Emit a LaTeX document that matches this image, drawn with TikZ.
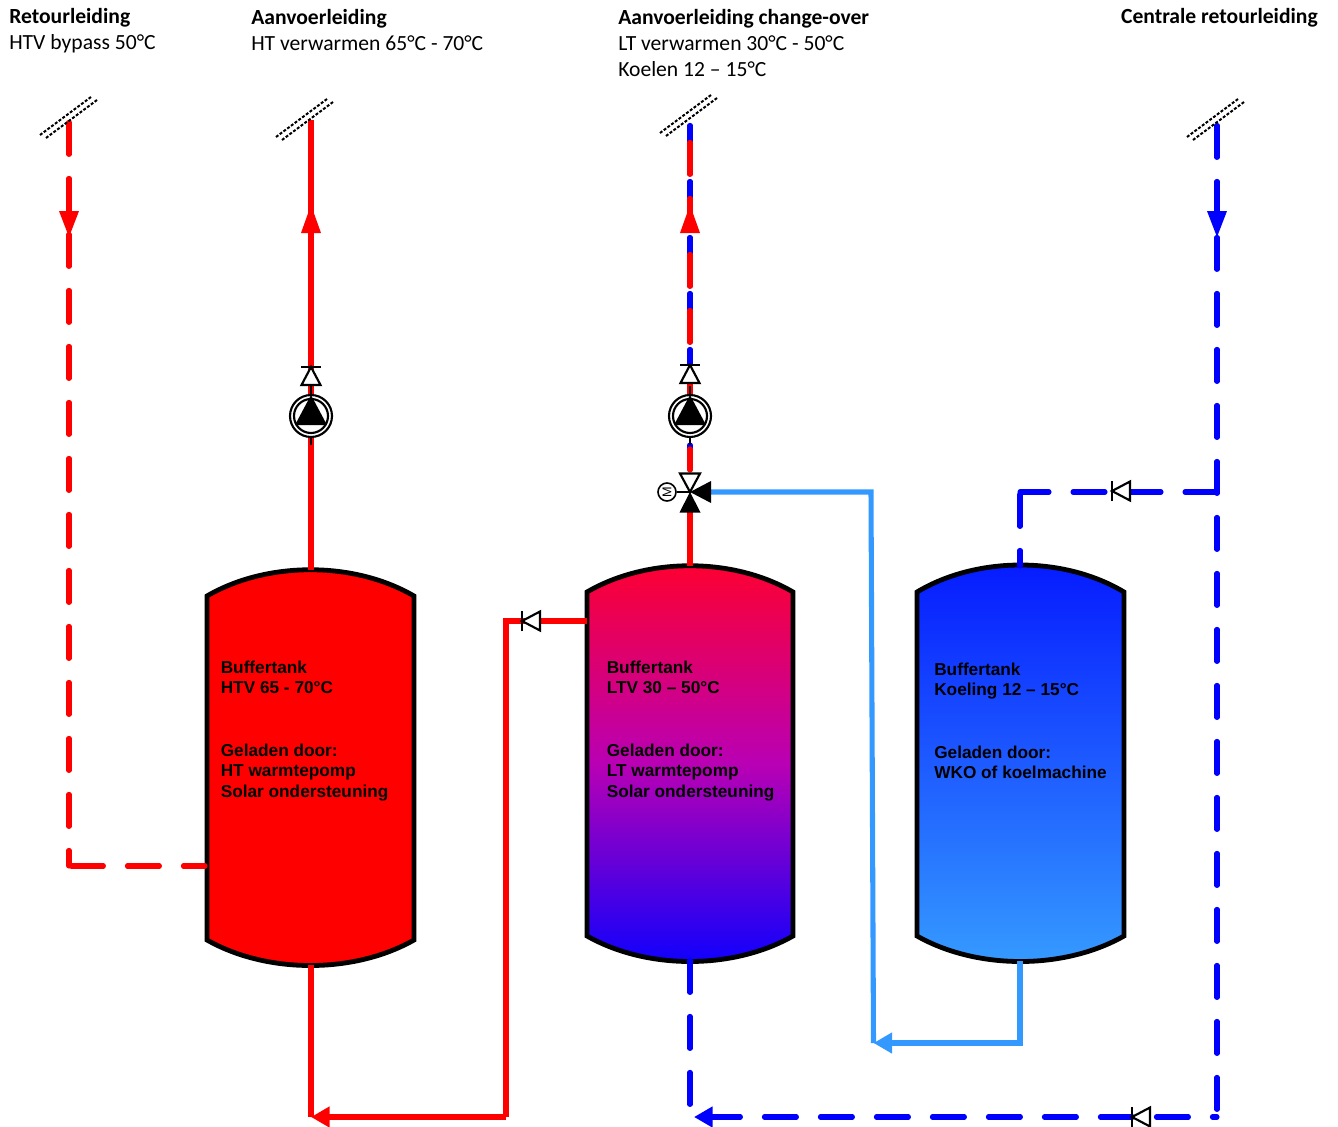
\documentclass[tikz,border=0pt]{standalone}
\usepackage{fontspec}
\setmainfont{Carlito}
\newfontfamily\tankfont{Liberation Sans}
\usetikzlibrary{arrows.meta}
\definecolor{pipered}{RGB}{255,0,0}
\definecolor{pipeblue}{RGB}{0,0,255}
\definecolor{pipelight}{RGB}{51,153,255}
\tikzset{
  x=.75pt,y=-.75pt,
  tankbody/.style={draw=black,line width=3.6pt,line join=miter},
  pipe/.style={line width=3.8pt,line cap=butt,line join=miter},
  dashpipe/.style={pipe,dash pattern=on 24pt off 18pt,line cap=round},
  symbol/.style={draw=black,line width=1.6pt,line join=miter},
  roof/.style={draw=black,line width=1.5pt,dash pattern=on 2.2pt off 1.3pt},
  headtext/.style={anchor=west,font=\fontsize{16.2pt}{19.5pt}\selectfont,align=left,inner sep=0pt,text=black},
  tanktext/.style={anchor=north west,font=\tankfont\bfseries\fontsize{12.93pt}{15.5pt}\selectfont,align=left,inner sep=0pt,text=black},
  tipr/.style={-{Triangle[length=14pt,width=15pt]}},
}
% tank: name, left x, right x, shoulder top y, apex y, shoulder bottom y, bottom y, fill options
\newcommand{\tank}[8]{%
  \path[tankbody,#8] (#2,#4) .. controls ({#2+60},#5) and ({#3-60},#5) .. (#3,#4)
     -- (#3,#6) .. controls ({#3-60},#7) and ({#2+60},#7) .. (#2,#6) -- cycle;
}
% check valve: position, rotation (apex + bar at local top)
\newcommand{\checkvalve}[3]{%
  \begin{scope}[shift={(#2,#3)},rotate=#1]
    \draw[symbol,fill=white] (0,-9) -- (9.5,9) -- (-9.5,9) -- cycle;
    \draw[symbol] (-10,-9) -- (10,-9);
  \end{scope}}
\newcommand{\pumpsym}[2]{%
  \begin{scope}[shift={(#1,#2)}]
    \draw[symbol,fill=white] (0,0) circle[radius=21];
    \draw[symbol] (0,0) circle[radius=17];
    \fill[black] (0,-21) -- (16,9) -- (-16,9) -- cycle;
    \draw[symbol] (0,21) -- (0,29);
    \draw[symbol] (0,-21) -- (0,-30);
  \end{scope}}
\newcommand{\roofsym}[2]{%
  \draw[roof] ({#1-30},{#2+38}) -- ({#1+21},{#2});
  \draw[roof] ({#1-24},{#2+41}) -- ({#1+27},{#2+3});
}
\begin{document}
\begin{tikzpicture}
\useasboundingbox (0,0) rectangle (1338,1127);
\fill[white] (0,0) rectangle (1338,1127);
% texts
\node[headtext] (t1) at (9,30.5) {\textbf{Retourleiding}\\HTV bypass 50°C};
\node[headtext] (t2) at (251,30.5) {\textbf{Aanvoerleiding}\\HT verwarmen 65°C - 70°C};
\node[headtext] (t3) at (618,42.5) {\textbf{Aanvoerleiding change-over}\\LT verwarmen 30°C - 50°C\\Koelen 12 – 15°C};
\node[headtext,anchor=east] (t4) at (1318,18) {\textbf{Centrale retourleiding}};
% anchor points
\coordinate (retA) at (69,122.4);
\coordinate (retB) at (69,866);
\coordinate (retC) at (205,866);
\coordinate (aanA) at (311,120);
\coordinate (chA) at (690,125.4);
\coordinate (chR) at (690,142.4);
\coordinate (chB) at (690,364);
\coordinate (cenA) at (1217,125.4);
\coordinate (cenB) at (1217,1117);
\coordinate (cenJ) at (1217,492);
\coordinate (kolA) at (1020,492);
\coordinate (botL) at (690,1107);
\coordinate (redC) at (311,1117);
\coordinate (redD) at (506,1117);
\coordinate (redE) at (506,621);
\coordinate (redF) at (587,621);
\coordinate (tv) at (690,492);
\coordinate (lbA) at (871,492);
\coordinate (lbB) at (873.5,1043);
\coordinate (lbC) at (1020,1043);
\coordinate (htop) at (311,570);
\coordinate (hbot) at (311,965);
\coordinate (ltop) at (690,566);
\coordinate (lbot) at (690,960.4);
\coordinate (ktop) at (1020,566);
\coordinate (kbot) at (1020,961);
\coordinate (botR) at (694,1117);
% tanks
\tank{h}{207}{414}{596}{561}{940}{974}{fill=pipered}
\tank{l}{587}{793}{592}{557}{936}{970}{top color={rgb,255:red,255;green,0;blue,45},bottom color={rgb,255:red,10;green,0;blue,255},middle color={rgb,255:red,185;green,0;blue,180}}
\tank{k}{917}{1124}{592}{556}{936}{970}{top color={rgb,255:red,5;green,25;blue,255},bottom color={rgb,255:red,54;green,156;blue,255}}
% tank labels
\node[tanktext] (a) at (220.5,660.5) {Buffertank\\HTV 65 - 70°C};
\node[tanktext] (b) at (220.5,743.5) {Geladen door:\\HT warmtepomp\\Solar ondersteuning};
\node[tanktext] (c) at (606.5,660.5) {Buffertank\\LTV 30 – 50°C};
\node[tanktext] (d) at (606.5,743.5) {Geladen door:\\LT warmtepomp\\Solar ondersteuning};
\node[tanktext] (e) at (934,662.5) {Buffertank\\Koeling 12 – 15°C};
\node[tanktext] (f) at (934,745.5) {Geladen door:\\WKO of koelmachine};
% red pipes
\draw[dashpipe,pipered] (retA) -- (retB);
\draw[dashpipe,pipered] (retB) ++(2.4,0) -- (retC);
\fill[pipered] (59,211) -- (79,211) -- (69,237) -- cycle;
\draw[pipe,pipered] (aanA) -- (htop);
\fill[pipered] (311,205) -- (321,233) -- (301,233) -- cycle;
\draw[pipe,pipered] (hbot) -- (redC);
\draw[pipe,pipered,tipr] (redD) -- (redC);
\draw[pipe,pipered] (redD) -- (redE) -- (redF);
% change-over pipe
\draw[pipe,pipeblue,line cap=round,dash pattern=on 36.4pt off 5.6pt] (chA) -- (chB);
\draw[dashpipe,pipered] (chR) -- (chB);
\fill[pipered] (690,205) -- (700,233) -- (680,233) -- cycle;
\draw[pipe,pipered] (690,383) -- (690,396);
\draw[pipe,pipeblue,line cap=round] (690,445) -- (690,469);
\draw[pipe,pipered,line cap=round] (690,449) -- (690,470);
\draw[pipe,pipered] (tv) ++(0,20) -- (ltop);
% blue pipes
\draw[dashpipe,pipeblue] (cenA) -- (cenB);
\fill[pipeblue] (1207,211) -- (1227,211) -- (1217,237) -- cycle;
\draw[dashpipe,pipeblue] (lbot) -- (botL);
\draw[dashpipe,pipeblue,dash phase=20.55pt,tipr] (cenB) -- (botR);
\draw[dashpipe,pipeblue] (cenJ) -- (kolA);
\draw[dashpipe,pipeblue] (kolA) ++(0,2.4) -- (ktop);
% light blue
\draw[pipe,pipelight] (711,492) -- (lbA) -- (lbB);
\draw[pipe,pipelight,tipr] (kbot) -- (lbC) -- (lbB);
% symbols
\roofsym{70}{97}
\roofsym{306}{99}
\roofsym{690}{95}
\roofsym{1217}{99}
\checkvalve{0}{311}{376}
\checkvalve{0}{690}{374}
\pumpsym{311}{416}
\pumpsym{690}{416}
\checkvalve{90}{531}{621}
\checkvalve{90}{1121}{491}
\checkvalve{90}{1141}{1117}
% three-way valve
\draw[symbol,fill=white] (tv) -- (680,473.5) -- (700,473.5) -- cycle;
\fill[black] (tv) -- (679.5,512.5) -- (700.5,512.5) -- cycle;
\fill[black] (tv) -- (711,481) -- (711,503) -- cycle;
\node[circle,draw=black,line width=1.2pt,fill=white,minimum size=13.5pt,inner sep=0pt,font=\tankfont\fontsize{9.5pt}{9.5pt}\selectfont,rotate=90] (motor) at (667,492) {M};
\draw[symbol] (motor) -- (tv);
\end{tikzpicture}
\end{document}
